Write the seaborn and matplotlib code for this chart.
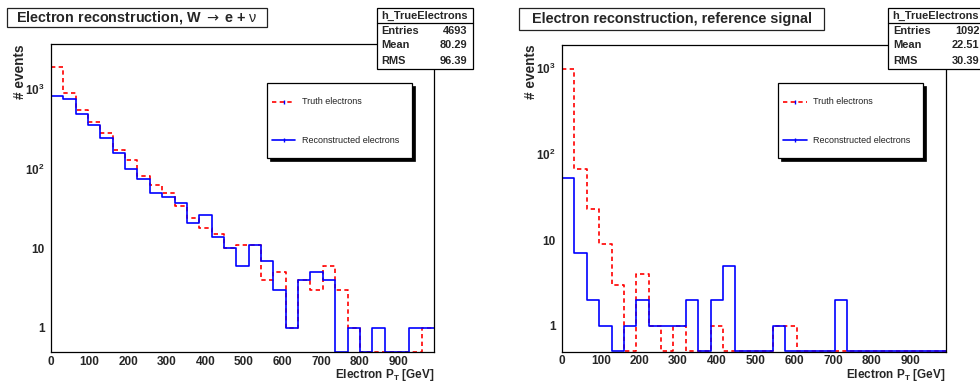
import numpy as np
import pandas as pd
import matplotlib
matplotlib.use("Agg")
import matplotlib.pyplot as plt
import seaborn as sns
from matplotlib.patches import Rectangle
from matplotlib.lines import Line2D
from matplotlib.ticker import FixedLocator, MultipleLocator, NullFormatter, FixedFormatter

# ---------------- data ----------------
bin_width = 32
n_bins = 31
bin_edges = [i * bin_width for i in range(n_bins + 1)]
bin_centers = [e + bin_width / 2 for e in bin_edges[:-1]]

# W -> e nu sample
w_truth = [1920, 906, 553, 388, 279, 171, 129, 80, 62, 49, 34, 24, 18, 15, 10, 11,
           11, 4, 5, 1, 4, 3, 6, 3, 1, 0, 0, 0, 0, 0, 1]
w_reco = [824, 755, 489, 356, 246, 160, 100, 74, 49, 44, 37, 21, 26, 14, 10, 6,
          11, 7, 3, 1, 4, 5, 4, 0, 1, 0, 1, 0, 0, 1, 1]
# reference signal sample
ref_truth = [981, 67, 23, 9, 3, 0, 4, 1, 0, 1, 0, 0, 1, 0, 0, 0,
             0, 1, 1, 0, 0, 0, 0, 0, 0, 0, 0, 0, 0, 0, 0]
ref_reco = [53, 7, 2, 1, 0, 1, 2, 1, 1, 1, 2, 0, 2, 5, 0, 0,
            0, 1, 0, 0, 0, 0, 2, 0, 0, 0, 0, 0, 0, 0, 0]

titles = ["Electron reconstruction, W $\\mathsf{\\rightarrow}$ e + $\\mathrm{\\nu}$",
          "Electron reconstruction, reference signal"]
stat_names = ["Entries", "Mean", "RMS"]
stats_left = ["4693", "80.29", "96.39"]
stats_right = ["1092", "22.51", "30.39"]
legend_labels = ["Truth electrons", "Reconstructed electrons"]
x_tick_values = [0, 100, 200, 300, 400, 500, 600, 700, 800, 900]
y_tick_values = [1, 10, 100, 1000]
y_tick_labels = ["1", "10", r"$\mathbf{10^{2}}$", r"$\mathbf{10^{3}}$"]

# ---------------- style ----------------
sns.set_style("white")
plt.rcParams["font.family"] = ["Liberation Sans", "DejaVu Sans"]
plt.rcParams["mathtext.fontset"] = "custom"
plt.rcParams["mathtext.rm"] = "Liberation Sans"
plt.rcParams["mathtext.bf"] = "Liberation Sans:bold"
plt.rcParams["mathtext.it"] = "Liberation Sans:italic"
plt.rcParams["mathtext.sf"] = "DejaVu Sans"

W, H = 980, 383
fig = plt.figure(figsize=(W / 100, H / 100), dpi=100)
fig.patch.set_facecolor("white")


def fx(x):
    return x / W


def fy(y):
    return 1 - y / H


RED = "#ff0000"
BLUE = "#0000ff"
DASH = (0, (2.6, 2.0))


def make_axes(x0, x1, y0, y1):
    return fig.add_axes([fx(x0), fy(y1), (x1 - x0) / W, (y1 - y0) / H])


def draw_panel(ax, truth, reco, ylim):
    ymin = ylim[0] * 1.01
    df = pd.DataFrame({"pt": bin_centers,
                       "truth": np.clip(np.array(truth, float), ymin, None),
                       "reco": np.clip(np.array(reco, float), ymin, None)})
    sns.histplot(data=df, x="pt", weights="truth", bins=bin_edges, element="step",
                 fill=False, color=RED, linestyle=DASH, linewidth=1.2, ax=ax)
    sns.histplot(data=df, x="pt", weights="reco", bins=bin_edges, element="step",
                 fill=False, color=BLUE, linestyle="-", linewidth=1.2, ax=ax)
    ax.set_yscale("log")
    ax.set_xlim(0, n_bins * bin_width)
    ax.set_ylim(*ylim)
    ax.set_xlabel("")
    ax.set_ylabel("")
    ax.xaxis.set_major_locator(FixedLocator(x_tick_values))
    ax.xaxis.set_minor_locator(MultipleLocator(20))
    ax.yaxis.set_major_locator(FixedLocator(y_tick_values))
    ax.yaxis.set_major_formatter(FixedFormatter(y_tick_labels))
    minors = [m * 10.0 ** e for e in range(-1, 4) for m in range(2, 10)]
    ax.yaxis.set_minor_locator(FixedLocator(minors))
    ax.yaxis.set_minor_formatter(NullFormatter())
    ax.tick_params(axis="x", which="major", direction="in", length=6.5, width=0.8,
                   labelsize=8.5, pad=2.5, top=False)
    ax.tick_params(axis="x", which="minor", direction="in", length=3.4, width=0.8, top=False)
    ax.tick_params(axis="y", which="major", direction="in", length=8.6, width=0.8,
                   labelsize=8.5, pad=4.5, right=False)
    ax.tick_params(axis="y", which="minor", direction="in", length=4.3, width=0.8, right=False)
    for lab in ax.get_xticklabels() + ax.get_yticklabels():
        lab.set_fontweight("bold")
    for s in ax.spines.values():
        s.set_color("black")
        s.set_linewidth(0.9)
        s.set_visible(True)


def title_box(x0, x1, y0, y1, text):
    fig.patches.append(Rectangle((fx(x0), fy(y1)), (x1 - x0) / W, (y1 - y0) / H,
                                 transform=fig.transFigure, facecolor="white",
                                 edgecolor="#222222", linewidth=0.9, zorder=5))
    fig.text(fx((x0 + x1) / 2), fy((y0 + y1) / 2), text, ha="center", va="center",
             fontsize=10.4, fontweight="bold", zorder=6)


def stat_box(x0, x1, y0, y1, ysep, lab_x, val_x, values):
    fig.patches.append(Rectangle((fx(x0), fy(y1)), (x1 - x0) / W, (y1 - y0) / H,
                                 transform=fig.transFigure, facecolor="white",
                                 edgecolor="black", linewidth=0.9, zorder=5))
    fig.lines.append(Line2D([fx(x0), fx(x1)], [fy(ysep), fy(ysep)],
                            transform=fig.transFigure, color="black", linewidth=0.9, zorder=6))
    fig.text(fx((x0 + min(x1, 982)) / 2), fy(15.7), "h_TrueElectrons", ha="center",
             va="center", fontsize=7.9, fontweight="bold", zorder=7)
    for yy, name, val in zip([30.7, 45.3, 61.0], stat_names, values):
        fig.text(fx(lab_x), fy(yy), name, ha="left", va="center", fontsize=7.9,
                 fontweight="bold", zorder=7)
        fig.text(fx(val_x), fy(yy), val, ha="right", va="center", fontsize=7.9,
                 fontweight="bold", zorder=7)


def legend_box(x0, x1, y0, y1):
    sh = 3
    fig.patches.append(Rectangle((fx(x0 + sh), fy(y1 + sh)), (x1 - x0) / W, (y1 - y0) / H,
                                 transform=fig.transFigure, facecolor="black",
                                 edgecolor="black", linewidth=0.5, zorder=5))
    fig.patches.append(Rectangle((fx(x0), fy(y1)), (x1 - x0) / W, (y1 - y0) / H,
                                 transform=fig.transFigure, facecolor="white",
                                 edgecolor="black", linewidth=0.9, zorder=6))
    rows = [(101.7, RED, DASH), (140.0, BLUE, "-")]
    for (yy, col, ls), lab in zip(rows, legend_labels):
        fig.lines.append(Line2D([fx(x0 + 5), fx(x0 + 28.5)], [fy(yy), fy(yy)],
                                transform=fig.transFigure, color=col, linestyle=ls,
                                linewidth=1.2, zorder=7))
        fig.lines.append(Line2D([fx(x0 + 17)], [fy(yy)], transform=fig.transFigure,
                                color=BLUE, marker="|", markersize=2.2, linewidth=0,
                                zorder=8))
        fig.text(fx(x0 + 35), fy(yy), lab, ha="left", va="center", fontsize=6.5,
                 color="#222222", zorder=7)


# ---------------- left panel ----------------
axL = make_axes(51, 434, 44.3, 352.3)
draw_panel(axL, w_truth, w_reco, (0.49, 3680))
# ---------------- right panel ----------------
axR = make_axes(562, 946, 44.7, 351.7)
draw_panel(axR, ref_truth, ref_reco, (0.502, 1884))

for xc in (19.5, 530.5):
    fig.text(fx(xc), fy(44.5), "# events", rotation=90, ha="center", va="top",
             fontsize=9.8, fontweight="bold")
for xr in (434.3, 945.7):
    fig.text(fx(xr), fy(375), r"Electron P$_{\mathbf{T}}$ [GeV]", ha="right", va="center",
             fontsize=8.5, fontweight="bold")

title_box(7, 267, 8.3, 27.3, titles[0])
title_box(519.3, 824, 8.3, 30.0, titles[1])

stat_box(376.7, 472.7, 8.3, 69.3, 23.3, 381, 467.7, stats_left)
stat_box(888.3, 986, 8.3, 69.3, 23.3, 893.3, 979.3, stats_right)

legend_box(266.7, 412.3, 82.7, 158.3)
legend_box(778.3, 922.7, 82.7, 158.3)

fig.savefig("out.png", dpi=100, facecolor="white")
